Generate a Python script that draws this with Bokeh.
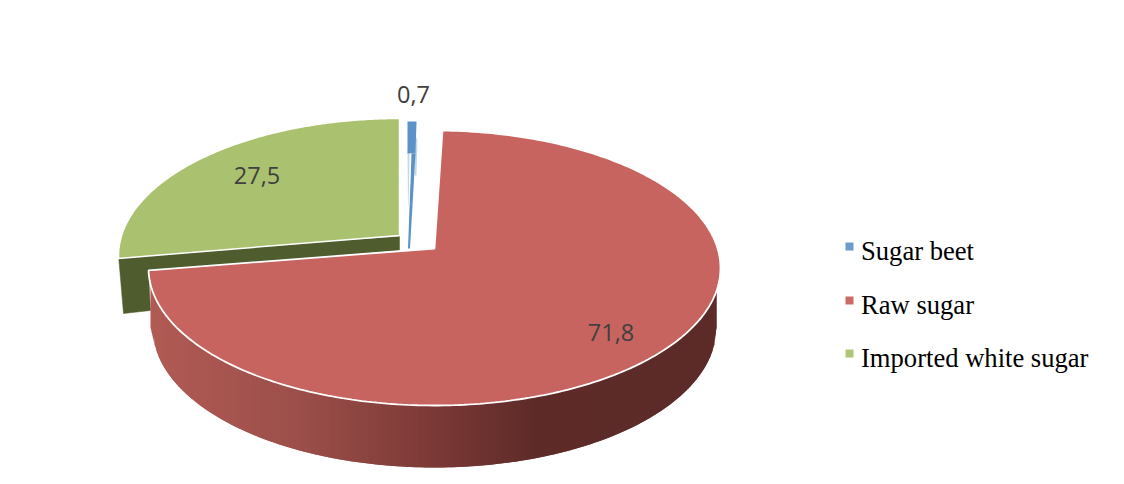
import numpy as np
from bokeh.plotting import figure
from bokeh.models import Range1d
from bokeh.core.properties import value
from bokeh.embed import file_html
from bokeh.resources import INLINE

categories = ["Sugar beet", "Raw sugar", "Imported white sugar"]
shares = [0.7, 71.8, 27.5]
share_labels = ["0,7", "71,8", "27,5"]
top_colors = ["#5B93C8", "#C8645F", "#AAC26F"]

p = figure(width=1116, height=476, output_backend="svg", toolbar_location=None,
           x_range=Range1d(0, 1116), y_range=Range1d(476, 0),
           x_axis_type="linear", min_border=0)
p.axis.visible = False
p.grid.visible = False
p.outline_line_color = None
p.background_fill_color = "white"
p.border_fill_color = "white"

# slice boundaries, clockwise from 12 o'clock, with the perspective warp of the 3D view
cum = np.cumsum([0] + shares) * 3.6
def warp(t):
    return np.interp(t, [0, cum[1], cum[2], 360], [0, 1.6, 269, 360])

def arc(cx, cy, rx, ry, a0, a1, n=160):
    t = np.radians(np.linspace(a0, a1, n))
    return cx + rx * np.sin(t), cy - ry * np.cos(t)

# exploded-green inner wall
p.patch([118, 399, 399, 148, 150, 123], [255, 236, 250, 271, 310, 313],
        fill_color="#4F5C2E", line_color="#4F5C2E", line_width=0.5)

# green top
gx, gy = arc(399, 255.5, 281, 137.5, warp(cum[2]), warp(cum[3]))
p.patch(list(gx) + [399], list(gy) + [235], fill_color=top_colors[2],
        line_color="white", line_width=1.5)

# blue slice: solid top, pale side, narrow dark line to the apex
p.patch([415, 417, 416, 414], [135, 140, 175, 175], fill_color="#C6D8EB", line_color=None)
p.patch([407, 409, 409, 407.5], [150, 150, 205, 205], fill_color="#C6D8EB", line_color=None)
bx, by = arc(407, 255.5, 205, 134.5, 0, cum[1], 8)
p.patch(list(bx) + [415, 411, 407], list(by) + [153, 153, 153], fill_color=top_colors[0], line_color=None)
p.patch([411, 415, 409.5, 407.5], [153, 153, 248, 248], fill_color=top_colors[0], line_color=None)
p.patch([409.5, 410.5, 409, 408], [153, 153, 205, 205], fill_color="white", line_color=None)

# red side wall, a horizontal gradient built from narrow overlapping trapezoids
cx, cyt, rxt, ryt = 434.0, 267.5, 286.0, 137.5
cyb, rxb, ryb = 327.0, 282.0, 140.0
edges = np.arange(150, 718, 2.0)
def lower(x, c, rx, ry, cy):
    s = np.clip((x - c) / rx, -1, 1)
    return cy + ry * np.sqrt(1 - s ** 2)
wall_top = lower(edges, cx, rxt, ryt, cyt) - 3
wall_bottom = lower(edges, cx, rxb, ryb, cyb)
stops_x = [150, 300, 430, 530, 720]
stops_r = [178, 156, 125, 95, 92]
stops_g = [91, 79, 58, 44, 43]
stops_b = [85, 74, 55, 41, 40]
xs, ys, cols = [], [], []
for i in range(len(edges) - 1):
    j = min(i + 2, len(edges) - 1)          # reach one strip further to hide seams
    xs.append([edges[i], edges[j], edges[j], edges[i]])
    ys.append([wall_top[i], wall_top[j], wall_bottom[j], wall_bottom[i]])
    m = (edges[i] + edges[i + 1]) / 2
    cols.append("#%02x%02x%02x" % (int(np.interp(m, stops_x, stops_r)),
                                   int(np.interp(m, stops_x, stops_g)),
                                   int(np.interp(m, stops_x, stops_b))))
p.patches(xs, ys, fill_color=cols, line_color=None)

# red top
rx_, ry_ = arc(cx, cyt, rxt, ryt, warp(cum[1]), warp(cum[2]), 260)
p.patch(list(rx_) + [434], list(ry_) + [248], fill_color=top_colors[1],
        line_color="white", line_width=1.8)

# value labels
p.text(x=[413, 610.5, 256.5], y=[94, 332, 175], text=share_labels,
       text_font=value("Open Sans"), text_font_size="23.5px", text_color="#404040",
       text_align="center", text_baseline="alphabetic")

# legend
lx = [845] * 3
ly = [242, 296, 349]
p.quad(left=lx, right=[x + 8 for x in lx], top=ly, bottom=[y + 8 for y in ly],
       fill_color=["#6A9CCC", "#CC6B66", "#AEC577"], line_color=None)
p.text(x=[860.5] * 3, y=[250, 304, 357], text=categories,
       text_font=value("Liberation Serif"), text_font_size="26.6px", text_color="black",
       text_align="left", text_baseline="alphabetic")

open("out.html", "w").write(file_html(p, INLINE))
